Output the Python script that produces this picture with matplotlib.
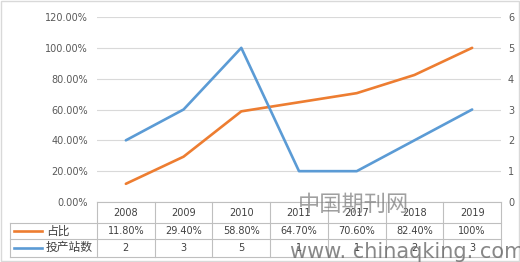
import matplotlib
matplotlib.use("Agg")
import matplotlib.pyplot as plt
from matplotlib.lines import Line2D
from matplotlib.transforms import blended_transform_factory

plt.rcParams['font.family'] = ['DejaVu Sans', 'Noto Sans CJK SC']

years = ['2008', '2009', '2010', '2011', '2017', '2018', '2019']
share = [11.8, 29.4, 58.8, 64.7, 70.6, 82.4, 100.0]
share_labels = ['11.80%', '29.40%', '58.80%', '64.70%', '70.60%', '82.40%', '100%']
stations = [2, 3, 5, 1, 1, 2, 3]
series_names = ['占比', '投产站数']
left_ticks = [0, 20, 40, 60, 80, 100, 120]
right_ticks = [0, 1, 2, 3, 4, 5, 6]

ORANGE = '#ED7D31'
BLUE = '#5B9BD5'
GRID = '#D9D9D9'
TXT = '#595959'
TBL = '#BFBFBF'

W, H = 520, 262
fig = plt.figure(figsize=(W / 100, H / 100), dpi=100)

def fx(px):
    return px / W

def fy(py):
    return 1 - py / H

ax_l, ax_r, ax_t, ax_b = 97, 501, 17, 202
ax = fig.add_axes([fx(ax_l), fy(ax_b), fx(ax_r - ax_l), fy(ax_t) - fy(ax_b)])
ax2 = ax.twinx()

x = list(range(len(years)))
ax.plot(x, share, color=ORANGE, lw=1.9, solid_capstyle='round', zorder=3)
ax2.plot(x, stations, color=BLUE, lw=1.9, solid_capstyle='round', zorder=3)

ax.set_xlim(-0.5, len(years) - 0.5)
ax.set_ylim(0, 120)
ax2.set_ylim(0, 6)
ax.set_yticks(left_ticks)
ax.set_yticklabels([f'{v:.2f}%' for v in left_ticks])
ax2.set_yticks(right_ticks)
ax2.set_yticklabels([str(v) for v in right_ticks])
ax.set_xticks([])
for a in (ax, ax2):
    for s in a.spines.values():
        s.set_visible(False)
    a.tick_params(axis='y', length=0, labelsize=7, colors=TXT)
ax.tick_params(axis='y', pad=6.5)
ax2.tick_params(axis='y', pad=5)
ax.yaxis.grid(True, color=GRID, lw=0.8)
ax.set_axisbelow(True)
ax2.patch.set_visible(False)

# data table
rows_y = [202, 223, 239, 256.5]
lbl_left = 10
tr = blended_transform_factory(ax.transData, fig.transFigure)
lines = []
lines.append(Line2D([fx(ax_l), fx(ax_r)], [fy(rows_y[0])] * 2, transform=fig.transFigure))
for yy in rows_y[1:]:
    lines.append(Line2D([fx(lbl_left), fx(ax_r)], [fy(yy)] * 2, transform=fig.transFigure))
lines.append(Line2D([fx(lbl_left)] * 2, [fy(rows_y[1]), fy(rows_y[3])], transform=fig.transFigure))
for i in range(len(years) + 1):
    lines.append(Line2D([i - 0.5] * 2, [fy(rows_y[0]), fy(rows_y[3])], transform=tr))
for ln in lines:
    ln.set_color(TBL)
    ln.set_linewidth(0.8)
    ln.set_clip_on(False)
    fig.add_artist(ln)

row_texts = [years, share_labels, [str(v) for v in stations]]
for r, texts in enumerate(row_texts):
    yc = fy((rows_y[r] + rows_y[r + 1]) / 2)
    for i, t in enumerate(texts):
        fig.text(i, yc, t, transform=tr, ha='center', va='center',
                 fontsize=7, color='#404040')

for r, (name, col) in enumerate(zip(series_names, [ORANGE, BLUE])):
    yc = fy((rows_y[r + 1] + rows_y[r + 2]) / 2)
    fig.add_artist(Line2D([fx(14), fx(42)], [yc, yc], color=col, lw=1.9,
                          transform=fig.transFigure))
    fig.text(fx(46), yc, name, ha='left', va='center', fontsize=8.5,
             color='#404040', family=['Noto Sans CJK SC'])

# watermark
fig.text(fx(353), fy(204), '中国期刊网', ha='center', va='center', fontsize=16,
         color='#808080', alpha=0.75, family=['Noto Sans CJK SC'], fontweight='light')
fig.text(fx(290), fy(252), 'www. chinaqking. com', ha='left', va='center',
         fontsize=15, color='#6a6a6a', alpha=0.8, family=['DejaVu Sans'])

# outer border
fig.add_artist(plt.Rectangle((0.001, 0.002), 0.997, 0.995, fill=False,
                             edgecolor=GRID, lw=1, transform=fig.transFigure))

fig.savefig('out.png', dpi=100)
